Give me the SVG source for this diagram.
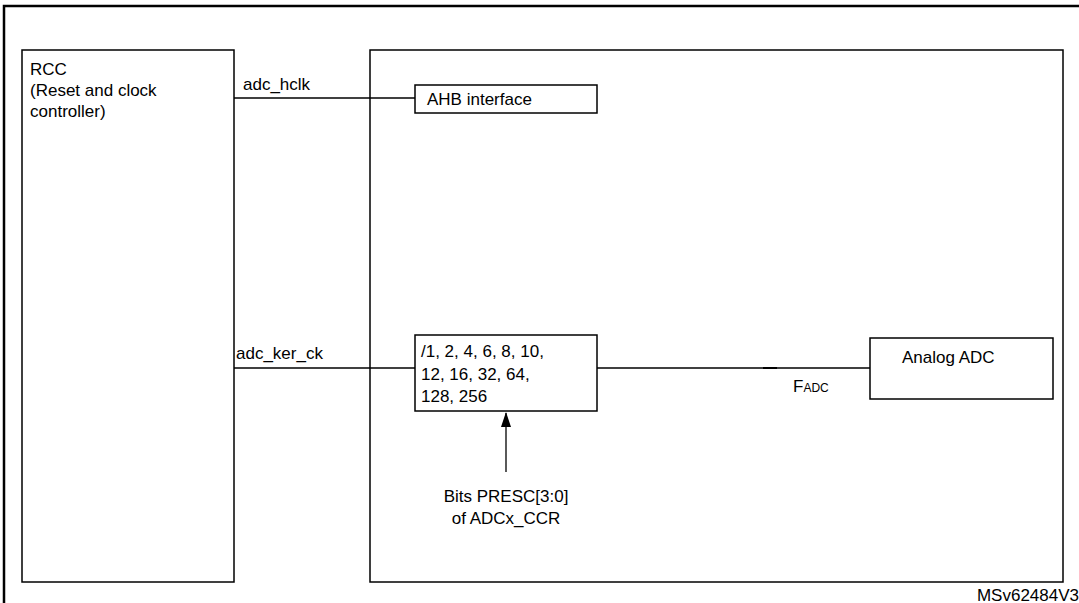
<svg xmlns="http://www.w3.org/2000/svg" width="1079" height="603" viewBox="0 0 1079 603">
<style>
.b{fill:#fff;stroke:#000;stroke-width:1.5}
.f{fill:none;stroke:#000;stroke-width:2.5}
.c{stroke:#000;stroke-width:1.3;fill:none}
text{font-family:"Liberation Sans",Arial,sans-serif;font-size:17px;fill:#000}
</style>
<defs><marker id="a" markerWidth="12" markerHeight="16" refX="6" refY="1" markerUnits="userSpaceOnUse"><path d="M1,15 L6,0 L11,15 Z" fill="#000"/></marker></defs>
<path class="f" d="M4,603 V6 H1079"/>
<g id="rcc"><rect class="b" x="22" y="50" width="212" height="532" stroke-width="2"/>
<text x="30" y="75">RCC</text><text x="30" y="96">(Reset and clock</text><text x="30" y="117">controller)</text></g>
<g id="adc"><rect class="b" x="370" y="50" width="693" height="532" stroke-width="2"/></g>
<g id="ahb"><rect class="b" x="415" y="85" width="182" height="28"/><text x="427" y="105">AHB interface</text></g>
<g id="presc"><rect class="b" x="415" y="335" width="182" height="76"/>
<text x="421" y="357">/1, 2, 4, 6, 8, 10,</text><text x="421" y="380">12, 16, 32, 64,</text><text x="421" y="402">128, 256</text></g>
<g id="analog"><rect class="b" x="870" y="338" width="183" height="61"/><text x="902" y="363">Analog ADC</text></g>
<g id="bits"><text x="506" y="502" text-anchor="middle">Bits PRESC[3:0]</text><text x="506" y="524" text-anchor="middle">of ADCx_CCR</text></g>
<g id="connectors">
<path class="c" d="M234,98 H415"/>
<path class="c" d="M234,368 H415"/>
<path class="c" d="M597,368 H870"/>
<path d="M763,368 H777" stroke="#000" stroke-width="2"/>
<path class="c" d="M506,472 V413" marker-end="url(#a)"/>
</g>
<text x="243" y="90">adc_hclk</text>
<text x="236" y="359">adc_ker_ck</text>
<text x="793" y="392">F<tspan font-size="12">ADC</tspan></text>
<text x="1079" y="601" text-anchor="end" font-size="13">MSv62484V3</text>
</svg>
